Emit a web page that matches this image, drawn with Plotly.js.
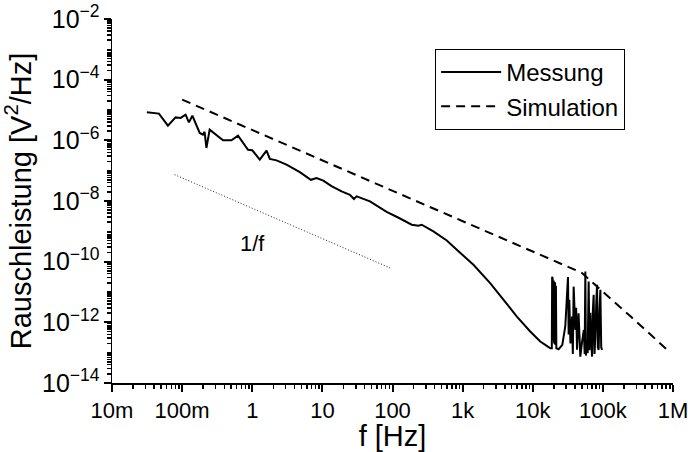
<!DOCTYPE html>
<html>
<head>
<meta charset="utf-8">
<script src="https://cdn.plot.ly/plotly-3.0.1.min.js"></script>
<style>html,body{margin:0;padding:0;background:#fff;}#chart{width:688px;height:452px;}</style>
</head>
<body>
<div id="chart"></div>
<script>
// Messung (measured noise power density)
const messF = [0.0314,0.0467,0.0627,0.0807,0.0953,0.112,0.125,0.140,0.178,0.198,0.209,0.222,0.247,0.383,0.505,0.627,0.871,1.0,1.28,1.60,1.78,2.22,3.08,4.77,6.85,8.26,10.3,13.5,18.8,20.9,24.7,28.2,30.8,47.7,82.6,124,188,234,261,383,594,826,1426,2470,3830,5940,9210,12800,15100,17800,
  18700,18900,19050,19200,19400,19550,19750,19900,20100,20300,20550,20800,21100,21400,21700,23400,26400,29100,31800,32500,33200,34500,36300,37300,38300,39500,40500,41600,42800,45000,47700,50500,53500,55000,56200,57300,58500,60700,61700,62700,64500,66300,68200,70100,72000,73900,76000,78200,80400,82600,84800,87100,89600,92100,94700,97400];
const messP = [8.4e-6,7.6e-6,3.05e-6,5.7e-6,5.5e-6,7.0e-6,3.9e-6,6.5e-6,1.75e-6,1.54e-6,1.9e-6,5.6e-7,2.25e-6,1.0e-6,1.0e-6,1.43e-6,4.9e-7,4.7e-7,2.3e-7,4.6e-7,2.43e-7,2.19e-7,1.58e-7,8.9e-8,5.0e-8,5.7e-8,4.7e-8,3.08e-8,2.07e-8,1.92e-8,1.61e-8,1.16e-8,1.42e-8,9.7e-9,4.4e-9,2.75e-9,1.65e-9,1.53e-9,1.65e-9,9.9e-10,5.0e-10,2.47e-10,7.9e-11,1.97e-11,5.5e-12,1.55e-12,4.97e-13,2.32e-13,1.8e-13,1.39e-13,
  1.4e-13,3.2e-11,2.5e-13,2.8e-11,3e-13,2.2e-11,2.5e-13,2.4e-11,2.2e-13,1.9e-11,2e-13,2.1e-11,1.8e-13,1.6e-11,1.4e-13,1.3e-13,1.8e-13,7.3e-13,3.1e-11,4e-13,5.5e-12,2e-13,1.55e-12,9e-14,1.5e-11,1.0e-12,5.6e-13,3e-12,1.24e-13,2e-12,7.4e-14,2.3e-13,5.6e-13,9e-14,4.75e-11,8e-14,2.6e-13,9.6e-14,3e-12,2.2e-11,1.2e-13,2.06e-12,3e-13,7.4e-14,2.5e-12,8.1e-12,9e-14,3.4e-13,4e-12,1.73e-11,1.5e-13,1.24e-13,2.5e-12,1.18e-11,1.5e-13,1.24e-13];

// Simulation
const simF = [0.1,1,10,100,1000,10000,30000,50000,74000,128000,250000,500000,826000];
const simP = [2.2e-5,2.2e-6,2.2e-7,2.2e-8,2.2e-9,2.2e-10,7.3e-11,4.3e-11,1.9e-11,6.3e-12,1.55e-12,3.6e-13,1.24e-13];

// 1/f reference line
const refF = [0.078,94];
const refP = [7.4e-8,6.1e-11];

// Axis ranges (log10 units) and label text
const xRange = [-2, 6];   // 10m .. 1M
const yRange = [-14, -2]; // 1e-14 .. 1e-2
const xTitle = 'f [Hz]';
const yTitle = 'Rauschleistung [V<sup>2</sup>/Hz]';
const refLabel = '1/f';

const FONT = "Liberation Sans, Arial, Helvetica, sans-serif";

const traces = [
  {x: messF, y: messP, type: 'scatter', mode: 'lines', name: 'Messung',
   line: {color: '#000', width: 2}},
  {x: simF, y: simP, type: 'scatter', mode: 'lines', name: 'Simulation',
   line: {color: '#000', width: 2, dash: '9px,6px'}},
  {x: refF, y: refP, type: 'scatter', mode: 'lines', name: refLabel, showlegend: false,
   line: {color: '#222', width: 1, dash: '1px,2px'}}
];

const layout = {
  width: 688, height: 452,
  margin: {l: 112, r: 15, t: 19, b: 69},
  paper_bgcolor: '#fff', plot_bgcolor: '#fff',
  font: {family: FONT, color: '#000', size: 20},
  showlegend: true,
  legend: {x: 0.576, y: 0.918, xanchor: 'left', yanchor: 'top',
    bordercolor: '#000', borderwidth: 1, bgcolor: '#fff',
    font: {family: FONT, size: 24, color: '#000'}, itemwidth: 60},
  xaxis: {
    type: 'log', range: xRange, showgrid: false, zeroline: false,
    showline: true, linecolor: '#000', linewidth: 1.5,
    ticks: 'outside', ticklen: 7, tickwidth: 2, tickcolor: '#000',
    tick0: 0, dtick: 1, tickformat: '~s', ticklabeloverflow: 'allow',
    tickfont: {family: FONT, size: 22, color: '#000'},
    minor: {ticks: 'outside', ticklen: 4, tickwidth: 1.5, tickcolor: '#000', dtick: 'D1'},
    title: {text: xTitle, font: {family: FONT, size: 29, color: '#000'}, standoff: 10}
  },
  yaxis: {
    type: 'log', range: yRange, showgrid: false, zeroline: false,
    showline: true, linecolor: '#000', linewidth: 1.5,
    ticks: 'outside', ticklen: 7, tickwidth: 2, tickcolor: '#000',
    tick0: 0, dtick: 2, exponentformat: 'power', showexponent: 'all',
    tickfont: {family: FONT, size: 20, color: '#000'},
    minor: {ticks: 'outside', ticklen: 4, tickwidth: 1.5, tickcolor: '#000', dtick: 'D1'},
    title: {text: yTitle, font: {family: FONT, size: 29, color: '#000'}, standoff: 2}
  },
  annotations: [
    {x: 0, y: -9.39, xref: 'x', yref: 'y', text: refLabel, showarrow: false,
     font: {family: FONT, size: 22, color: '#000'}}
  ]
};

Plotly.newPlot('chart', traces, layout, {displayModeBar: false, staticPlot: true});
</script>
</body>
</html>
